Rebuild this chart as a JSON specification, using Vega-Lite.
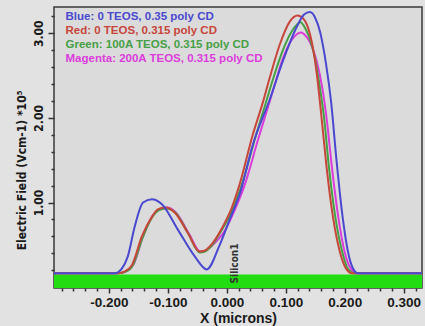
{
  "$schema": "https://vega.github.io/schema/vega-lite/v6.json",
  "width": 368,
  "height": 281,
  "autosize": {"type": "none"},
  "padding": {"left": 54, "top": 7, "right": 3, "bottom": 38},
  "background": "#e2e2e2",
  "config": {
    "view": {"fill": "#dbdbdb", "stroke": "#3a3a3a", "strokeWidth": 1.5},
    "font": "Liberation Sans",
    "axis": {"labelFlush": false, "grid": false, "domain": false, "tickColor": "#333333", "tickWidth": 1.5}
  },
  "resolve": {"axis": {"x": "independent", "y": "independent"}},
  "datasets": {
    "band": [{"lo": -0.01, "hi": 0.15}],
    "note": [{"x": 0.0136, "y": 0.28, "label": "Silicon1"}],
    "curves": [
      {"series": "Magenta: 200A TEOS, 0.315 poly CD", "x": -0.293, "y": 0.165},
      {"series": "Magenta: 200A TEOS, 0.315 poly CD", "x": -0.183, "y": 0.165},
      {"series": "Magenta: 200A TEOS, 0.315 poly CD", "x": -0.170, "y": 0.19},
      {"series": "Magenta: 200A TEOS, 0.315 poly CD", "x": -0.158, "y": 0.27},
      {"series": "Magenta: 200A TEOS, 0.315 poly CD", "x": -0.142, "y": 0.60},
      {"series": "Magenta: 200A TEOS, 0.315 poly CD", "x": -0.126, "y": 0.84},
      {"series": "Magenta: 200A TEOS, 0.315 poly CD", "x": -0.114, "y": 0.92},
      {"series": "Magenta: 200A TEOS, 0.315 poly CD", "x": -0.102, "y": 0.94},
      {"series": "Magenta: 200A TEOS, 0.315 poly CD", "x": -0.086, "y": 0.88},
      {"series": "Magenta: 200A TEOS, 0.315 poly CD", "x": -0.064, "y": 0.63},
      {"series": "Magenta: 200A TEOS, 0.315 poly CD", "x": -0.045, "y": 0.42},
      {"series": "Magenta: 200A TEOS, 0.315 poly CD", "x": -0.036, "y": 0.43},
      {"series": "Magenta: 200A TEOS, 0.315 poly CD", "x": -0.027, "y": 0.48},
      {"series": "Magenta: 200A TEOS, 0.315 poly CD", "x": -0.004, "y": 0.66},
      {"series": "Magenta: 200A TEOS, 0.315 poly CD", "x": 0.014, "y": 0.92},
      {"series": "Magenta: 200A TEOS, 0.315 poly CD", "x": 0.030, "y": 1.20},
      {"series": "Magenta: 200A TEOS, 0.315 poly CD", "x": 0.052, "y": 1.72},
      {"series": "Magenta: 200A TEOS, 0.315 poly CD", "x": 0.073, "y": 2.20},
      {"series": "Magenta: 200A TEOS, 0.315 poly CD", "x": 0.085, "y": 2.48},
      {"series": "Magenta: 200A TEOS, 0.315 poly CD", "x": 0.095, "y": 2.70},
      {"series": "Magenta: 200A TEOS, 0.315 poly CD", "x": 0.110, "y": 2.92},
      {"series": "Magenta: 200A TEOS, 0.315 poly CD", "x": 0.126, "y": 3.01},
      {"series": "Magenta: 200A TEOS, 0.315 poly CD", "x": 0.135, "y": 2.96},
      {"series": "Magenta: 200A TEOS, 0.315 poly CD", "x": 0.142, "y": 2.88},
      {"series": "Magenta: 200A TEOS, 0.315 poly CD", "x": 0.152, "y": 2.68},
      {"series": "Magenta: 200A TEOS, 0.315 poly CD", "x": 0.162, "y": 2.35},
      {"series": "Magenta: 200A TEOS, 0.315 poly CD", "x": 0.170, "y": 1.95},
      {"series": "Magenta: 200A TEOS, 0.315 poly CD", "x": 0.178, "y": 1.43},
      {"series": "Magenta: 200A TEOS, 0.315 poly CD", "x": 0.189, "y": 0.83},
      {"series": "Magenta: 200A TEOS, 0.315 poly CD", "x": 0.200, "y": 0.41},
      {"series": "Magenta: 200A TEOS, 0.315 poly CD", "x": 0.211, "y": 0.21},
      {"series": "Magenta: 200A TEOS, 0.315 poly CD", "x": 0.219, "y": 0.165},
      {"series": "Magenta: 200A TEOS, 0.315 poly CD", "x": 0.331, "y": 0.165},

      {"series": "Green: 100A TEOS, 0.315 poly CD", "x": -0.293, "y": 0.165},
      {"series": "Green: 100A TEOS, 0.315 poly CD", "x": -0.185, "y": 0.165},
      {"series": "Green: 100A TEOS, 0.315 poly CD", "x": -0.172, "y": 0.18},
      {"series": "Green: 100A TEOS, 0.315 poly CD", "x": -0.160, "y": 0.25},
      {"series": "Green: 100A TEOS, 0.315 poly CD", "x": -0.143, "y": 0.58},
      {"series": "Green: 100A TEOS, 0.315 poly CD", "x": -0.127, "y": 0.82},
      {"series": "Green: 100A TEOS, 0.315 poly CD", "x": -0.115, "y": 0.91},
      {"series": "Green: 100A TEOS, 0.315 poly CD", "x": -0.103, "y": 0.93},
      {"series": "Green: 100A TEOS, 0.315 poly CD", "x": -0.087, "y": 0.88},
      {"series": "Green: 100A TEOS, 0.315 poly CD", "x": -0.066, "y": 0.64},
      {"series": "Green: 100A TEOS, 0.315 poly CD", "x": -0.046, "y": 0.41},
      {"series": "Green: 100A TEOS, 0.315 poly CD", "x": -0.037, "y": 0.42},
      {"series": "Green: 100A TEOS, 0.315 poly CD", "x": -0.028, "y": 0.47},
      {"series": "Green: 100A TEOS, 0.315 poly CD", "x": -0.008, "y": 0.68},
      {"series": "Green: 100A TEOS, 0.315 poly CD", "x": 0.010, "y": 0.92},
      {"series": "Green: 100A TEOS, 0.315 poly CD", "x": 0.025, "y": 1.20},
      {"series": "Green: 100A TEOS, 0.315 poly CD", "x": 0.048, "y": 1.76},
      {"series": "Green: 100A TEOS, 0.315 poly CD", "x": 0.065, "y": 2.15},
      {"series": "Green: 100A TEOS, 0.315 poly CD", "x": 0.078, "y": 2.45},
      {"series": "Green: 100A TEOS, 0.315 poly CD", "x": 0.094, "y": 2.78},
      {"series": "Green: 100A TEOS, 0.315 poly CD", "x": 0.110, "y": 3.02},
      {"series": "Green: 100A TEOS, 0.315 poly CD", "x": 0.125, "y": 3.13},
      {"series": "Green: 100A TEOS, 0.315 poly CD", "x": 0.133, "y": 3.06},
      {"series": "Green: 100A TEOS, 0.315 poly CD", "x": 0.140, "y": 2.95},
      {"series": "Green: 100A TEOS, 0.315 poly CD", "x": 0.149, "y": 2.72},
      {"series": "Green: 100A TEOS, 0.315 poly CD", "x": 0.158, "y": 2.35},
      {"series": "Green: 100A TEOS, 0.315 poly CD", "x": 0.165, "y": 2.00},
      {"series": "Green: 100A TEOS, 0.315 poly CD", "x": 0.173, "y": 1.43},
      {"series": "Green: 100A TEOS, 0.315 poly CD", "x": 0.184, "y": 0.83},
      {"series": "Green: 100A TEOS, 0.315 poly CD", "x": 0.196, "y": 0.41},
      {"series": "Green: 100A TEOS, 0.315 poly CD", "x": 0.206, "y": 0.21},
      {"series": "Green: 100A TEOS, 0.315 poly CD", "x": 0.215, "y": 0.165},
      {"series": "Green: 100A TEOS, 0.315 poly CD", "x": 0.331, "y": 0.165},

      {"series": "Red: 0 TEOS, 0.315 poly CD", "x": -0.293, "y": 0.165},
      {"series": "Red: 0 TEOS, 0.315 poly CD", "x": -0.185, "y": 0.165},
      {"series": "Red: 0 TEOS, 0.315 poly CD", "x": -0.172, "y": 0.19},
      {"series": "Red: 0 TEOS, 0.315 poly CD", "x": -0.161, "y": 0.26},
      {"series": "Red: 0 TEOS, 0.315 poly CD", "x": -0.144, "y": 0.60},
      {"series": "Red: 0 TEOS, 0.315 poly CD", "x": -0.127, "y": 0.83},
      {"series": "Red: 0 TEOS, 0.315 poly CD", "x": -0.117, "y": 0.92},
      {"series": "Red: 0 TEOS, 0.315 poly CD", "x": -0.105, "y": 0.94},
      {"series": "Red: 0 TEOS, 0.315 poly CD", "x": -0.088, "y": 0.88},
      {"series": "Red: 0 TEOS, 0.315 poly CD", "x": -0.066, "y": 0.64},
      {"series": "Red: 0 TEOS, 0.315 poly CD", "x": -0.046, "y": 0.42},
      {"series": "Red: 0 TEOS, 0.315 poly CD", "x": -0.038, "y": 0.43},
      {"series": "Red: 0 TEOS, 0.315 poly CD", "x": -0.029, "y": 0.48},
      {"series": "Red: 0 TEOS, 0.315 poly CD", "x": -0.008, "y": 0.70},
      {"series": "Red: 0 TEOS, 0.315 poly CD", "x": 0.008, "y": 0.93},
      {"series": "Red: 0 TEOS, 0.315 poly CD", "x": 0.022, "y": 1.22},
      {"series": "Red: 0 TEOS, 0.315 poly CD", "x": 0.044, "y": 1.80},
      {"series": "Red: 0 TEOS, 0.315 poly CD", "x": 0.061, "y": 2.18},
      {"series": "Red: 0 TEOS, 0.315 poly CD", "x": 0.073, "y": 2.48},
      {"series": "Red: 0 TEOS, 0.315 poly CD", "x": 0.090, "y": 2.87},
      {"series": "Red: 0 TEOS, 0.315 poly CD", "x": 0.107, "y": 3.14},
      {"series": "Red: 0 TEOS, 0.315 poly CD", "x": 0.120, "y": 3.21},
      {"series": "Red: 0 TEOS, 0.315 poly CD", "x": 0.130, "y": 3.17},
      {"series": "Red: 0 TEOS, 0.315 poly CD", "x": 0.136, "y": 3.10},
      {"series": "Red: 0 TEOS, 0.315 poly CD", "x": 0.146, "y": 2.83},
      {"series": "Red: 0 TEOS, 0.315 poly CD", "x": 0.153, "y": 2.50},
      {"series": "Red: 0 TEOS, 0.315 poly CD", "x": 0.160, "y": 2.05},
      {"series": "Red: 0 TEOS, 0.315 poly CD", "x": 0.169, "y": 1.43},
      {"series": "Red: 0 TEOS, 0.315 poly CD", "x": 0.180, "y": 0.83},
      {"series": "Red: 0 TEOS, 0.315 poly CD", "x": 0.192, "y": 0.41},
      {"series": "Red: 0 TEOS, 0.315 poly CD", "x": 0.203, "y": 0.21},
      {"series": "Red: 0 TEOS, 0.315 poly CD", "x": 0.212, "y": 0.165},
      {"series": "Red: 0 TEOS, 0.315 poly CD", "x": 0.331, "y": 0.165},

      {"series": "Blue: 0 TEOS, 0.35 poly CD", "x": -0.293, "y": 0.165},
      {"series": "Blue: 0 TEOS, 0.35 poly CD", "x": -0.190, "y": 0.165},
      {"series": "Blue: 0 TEOS, 0.35 poly CD", "x": -0.178, "y": 0.22},
      {"series": "Blue: 0 TEOS, 0.35 poly CD", "x": -0.168, "y": 0.36},
      {"series": "Blue: 0 TEOS, 0.35 poly CD", "x": -0.156, "y": 0.72},
      {"series": "Blue: 0 TEOS, 0.35 poly CD", "x": -0.142, "y": 1.00},
      {"series": "Blue: 0 TEOS, 0.35 poly CD", "x": -0.127, "y": 1.04},
      {"series": "Blue: 0 TEOS, 0.35 poly CD", "x": -0.110, "y": 0.98},
      {"series": "Blue: 0 TEOS, 0.35 poly CD", "x": -0.083, "y": 0.68},
      {"series": "Blue: 0 TEOS, 0.35 poly CD", "x": -0.054, "y": 0.36},
      {"series": "Blue: 0 TEOS, 0.35 poly CD", "x": -0.034, "y": 0.21},
      {"series": "Blue: 0 TEOS, 0.35 poly CD", "x": -0.012, "y": 0.50},
      {"series": "Blue: 0 TEOS, 0.35 poly CD", "x": 0.005, "y": 0.80},
      {"series": "Blue: 0 TEOS, 0.35 poly CD", "x": 0.022, "y": 1.10},
      {"series": "Blue: 0 TEOS, 0.35 poly CD", "x": 0.044, "y": 1.68},
      {"series": "Blue: 0 TEOS, 0.35 poly CD", "x": 0.073, "y": 2.22},
      {"series": "Blue: 0 TEOS, 0.35 poly CD", "x": 0.095, "y": 2.67},
      {"series": "Blue: 0 TEOS, 0.35 poly CD", "x": 0.119, "y": 3.08},
      {"series": "Blue: 0 TEOS, 0.35 poly CD", "x": 0.131, "y": 3.22},
      {"series": "Blue: 0 TEOS, 0.35 poly CD", "x": 0.141, "y": 3.25},
      {"series": "Blue: 0 TEOS, 0.35 poly CD", "x": 0.150, "y": 3.18},
      {"series": "Blue: 0 TEOS, 0.35 poly CD", "x": 0.158, "y": 3.02},
      {"series": "Blue: 0 TEOS, 0.35 poly CD", "x": 0.168, "y": 2.65},
      {"series": "Blue: 0 TEOS, 0.35 poly CD", "x": 0.177, "y": 2.18},
      {"series": "Blue: 0 TEOS, 0.35 poly CD", "x": 0.186, "y": 1.50},
      {"series": "Blue: 0 TEOS, 0.35 poly CD", "x": 0.196, "y": 0.85},
      {"series": "Blue: 0 TEOS, 0.35 poly CD", "x": 0.206, "y": 0.40},
      {"series": "Blue: 0 TEOS, 0.35 poly CD", "x": 0.214, "y": 0.22},
      {"series": "Blue: 0 TEOS, 0.35 poly CD", "x": 0.222, "y": 0.165},
      {"series": "Blue: 0 TEOS, 0.35 poly CD", "x": 0.331, "y": 0.165}
    ]
  },
  "layer": [
    {
      "data": {"name": "band"},
      "mark": {"type": "rect", "color": "#22dd11"},
      "encoding": {
        "y": {"field": "lo", "type": "quantitative", "scale": {"domain": [-0.01, 3.31], "nice": false, "zero": false}, "axis": null},
        "y2": {"field": "hi"}
      }
    },
    {
      "data": {"name": "curves"},
      "mark": {"type": "line", "strokeWidth": 2, "interpolate": "monotone"},
      "encoding": {
        "x": {
          "field": "x", "type": "quantitative",
          "scale": {"domain": [-0.293, 0.331], "nice": false, "zero": false},
          "title": "X (microns)",
          "axis": {
            "orient": "bottom",
            "values": [-0.2, -0.1, 0, 0.1, 0.2, 0.3],
            "labelExpr": "replace(format(datum.value, '.3f'), '−', '-')",
            "tickSize": 5,
            "labelFont": "Liberation Sans",
            "labelFontWeight": "bold",
            "labelFontSize": 13.5,
            "labelColor": "#1a1a1a",
            "labelPadding": 2,
            "labelOverlap": false,
            "titleFont": "Liberation Sans",
            "titleFontSize": 14,
            "titleFontWeight": "bold",
            "titleColor": "#1a1a1a",
            "titlePadding": 3
          }
        },
        "y": {
          "field": "y", "type": "quantitative",
          "scale": {"domain": [-0.01, 3.31], "nice": false, "zero": false},
          "title": "Electric Field (Vcm-1) *10⁵",
          "axis": {
            "orient": "left",
            "values": [1, 2, 3],
            "format": ".2f",
            "tickSize": 6,
            "labelAngle": 270,
            "labelAlign": "center",
            "labelBaseline": "bottom",
            "labelPadding": 3,
            "labelFont": "DejaVu Sans Condensed, Liberation Sans",
            "labelFontWeight": "bold",
            "labelFontSize": 12,
            "labelColor": "#1a1a1a",
            "labelOverlap": false,
            "titleFont": "DejaVu Sans Condensed, Liberation Sans",
            "titleFontSize": 12,
            "titleFontWeight": "bold",
            "titleColor": "#1a1a1a",
            "titlePadding": 4,
            "titleAnchor": "middle",
            "titleY": 163
          }
        },
        "color": {
          "field": "series", "type": "nominal",
          "scale": {
            "domain": ["Blue: 0 TEOS, 0.35 poly CD", "Red: 0 TEOS, 0.315 poly CD", "Green: 100A TEOS, 0.315 poly CD", "Magenta: 200A TEOS, 0.315 poly CD"],
            "range": ["#4a48d0", "#c8453a", "#46a046", "#dc3cdc"]
          },
          "legend": {
            "orient": "none",
            "legendX": 0,
            "legendY": 4,
            "title": null,
            "symbolSize": 0,
            "symbolStrokeWidth": 0,
            "symbolOpacity": 0,
            "labelOffset": 0,
            "padding": 0,
            "rowPadding": 1,
            "labelFont": "Liberation Sans",
            "labelFontWeight": "bold",
            "labelFontSize": 11.5,
            "labelLimit": 400,
            "encode": {"labels": {"update": {"fill": {"scale": "color", "field": "value"}}}}
          }
        },
        "detail": {"field": "series"}
      }
    },
    {
      "data": {"name": "note"},
      "mark": {"type": "text", "angle": 270, "align": "center", "baseline": "middle", "font": "DejaVu Sans Condensed, Liberation Sans", "fontSize": 10, "fontWeight": "bold", "color": "#333333"},
      "encoding": {
        "x": {
          "field": "x", "type": "quantitative",
          "axis": {
            "orient": "bottom",
            "values": [-0.28, -0.26, -0.24, -0.22, -0.18, -0.16, -0.14, -0.12, -0.08, -0.06, -0.04, -0.02, 0.02, 0.04, 0.06, 0.08, 0.12, 0.14, 0.16, 0.18, 0.22, 0.24, 0.26, 0.28, 0.32],
            "labels": false,
            "title": null,
            "tickSize": 3
          }
        },
        "y": {
          "field": "y", "type": "quantitative",
          "axis": {
            "orient": "left",
            "values": [0.2, 0.4, 0.6, 0.8, 1.2, 1.4, 1.6, 1.8, 2.2, 2.4, 2.6, 2.8, 3.2],
            "labels": false,
            "title": null,
            "tickSize": 3
          }
        },
        "text": {"field": "label"}
      }
    }
  ]
}
